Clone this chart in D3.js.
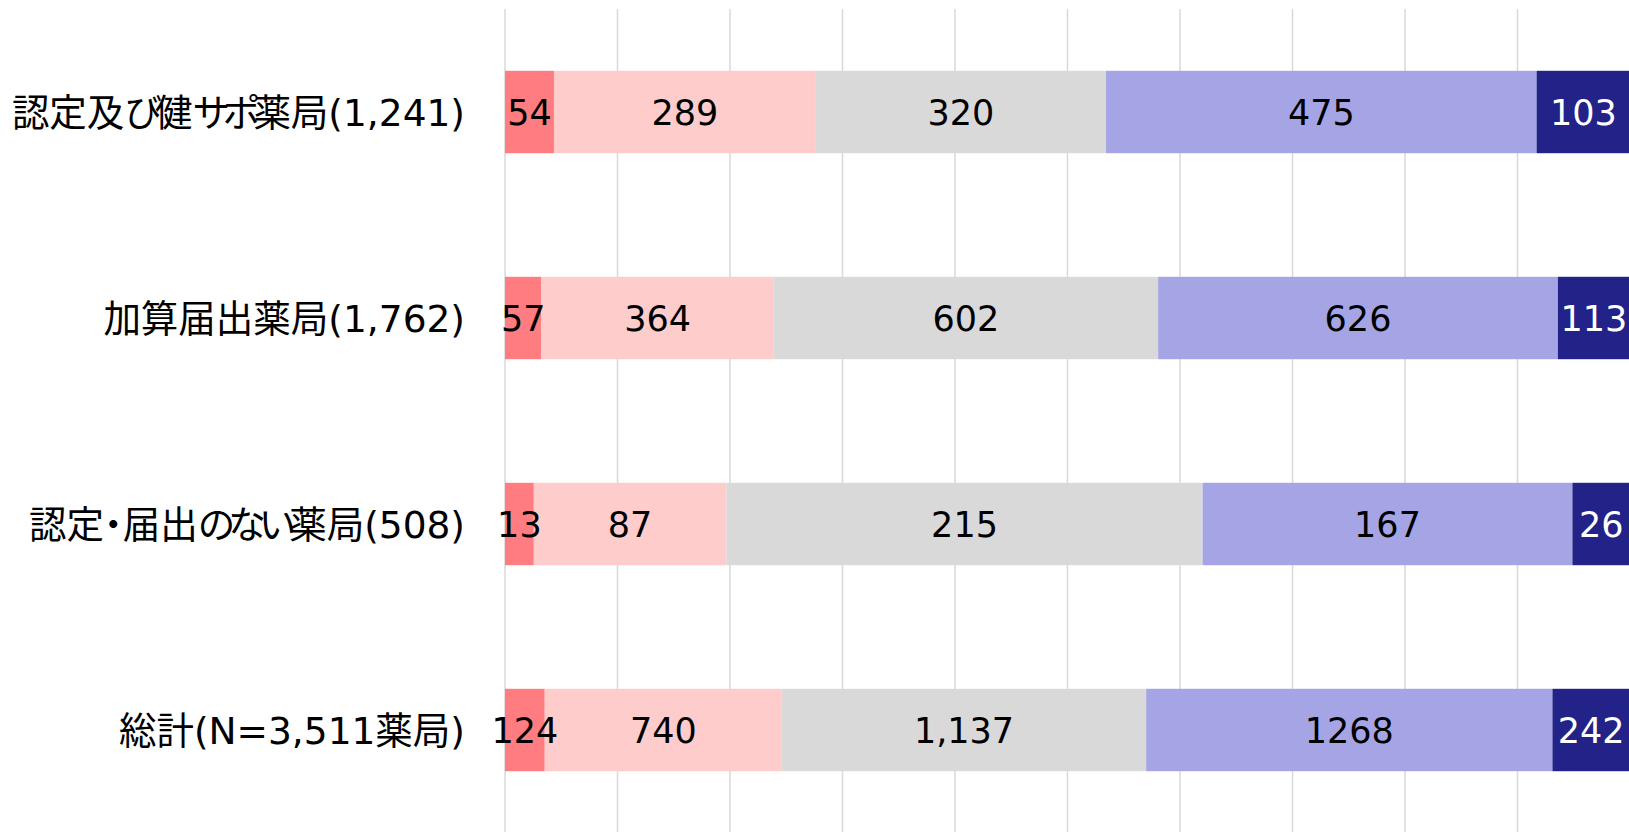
<!DOCTYPE html>
<html>
<head>
<meta charset="utf-8">
<script src="https://cdn.jsdelivr.net/npm/d3@7"></script>
<style>
  html, body { margin: 0; padding: 0; background: #fff; overflow: hidden; }
  svg { display: block; }
  text { font-family: "DejaVu Sans", "Noto Sans CJK JP", sans-serif; }
  .cat tspan.kana { letter-spacing: -7px; }
  .cat tspan.dot { font-feature-settings: "palt"; }
</style>
</head>
<body>
<svg id="chart" width="1629" height="832"></svg>
<script>
// ---- data ----
const categories = ["認定及び健サポ薬局(1,241)", "加算届出薬局(1,762)", "認定・届出のない薬局(508)", "総計(N=3,511薬局)"];
const seriesKeys = ["s1", "s2", "s3", "s4", "s5"];
const s1 = [54, 57, 13, 124];
const s2 = [289, 364, 87, 740];
const s3 = [320, 602, 215, 1137];
const s4 = [475, 626, 167, 1268];
const s5 = [103, 113, 26, 242];
const labels1 = ["54", "57", "13", "124"];
const labels2 = ["289", "364", "87", "740"];
const labels3 = ["320", "602", "215", "1,137"];
const labels4 = ["475", "626", "167", "1268"];
const labels5 = ["103", "113", "26", "242"];
const gridTicks = [0, 0.1, 0.2, 0.3, 0.4, 0.5, 0.6, 0.7, 0.8, 0.9, 1.0];

const colors = ["#FF7C80", "#FFCCCC", "#D9D9D9", "#A5A5E6", "#222289"];
const textColors = ["#000", "#000", "#000", "#000", "#fff"];

const seriesVals = [s1, s2, s3, s4, s5];
const seriesLabels = [labels1, labels2, labels3, labels4, labels5];

const rows = categories.map((c, i) => {
  const o = { cat: c };
  seriesKeys.forEach((k, j) => o[k] = seriesVals[j][i]);
  return o;
});

const stacked = d3.stack().keys(seriesKeys).offset(d3.stackOffsetExpand)(rows);

const svg = d3.select("#chart");
const x = d3.scaleLinear().domain([0, 1]).range([505, 1630]);
const y = d3.scaleBand().domain(categories).range([9, 833]).paddingInner(0.6).paddingOuter(0.3);

// gridlines
svg.append("g").selectAll("line").data(gridTicks).join("line")
  .attr("x1", d => x(d)).attr("x2", d => x(d))
  .attr("y1", 9).attr("y2", 840)
  .attr("stroke", "#d9d9d9").attr("stroke-width", 1.5);

// bars
const layers = svg.append("g").selectAll("g").data(stacked).join("g")
  .attr("fill", (d, i) => colors[i]);
layers.selectAll("rect").data(d => d).join("rect")
  .attr("x", d => x(d[0]))
  .attr("width", d => x(d[1]) - x(d[0]))
  .attr("y", d => y(d.data.cat))
  .attr("height", y.bandwidth());

// value labels
stacked.forEach((layer, si) => {
  svg.append("g").selectAll("text").data(layer).join("text")
    .attr("x", d => (x(d[0]) + x(d[1])) / 2)
    .attr("y", d => y(d.data.cat) + y.bandwidth() / 2)
    .attr("dy", "0.36em")
    .attr("text-anchor", "middle")
    .attr("font-size", 35)
    .attr("fill", textColors[si])
    .text((d, i) => seriesLabels[si][i]);
});

// category axis labels
const yAxis = d3.axisLeft(y).tickSize(0).tickPadding(40);
const ga = svg.append("g").attr("class", "cat").attr("transform", `translate(${x(0)},0)`).call(yAxis);
ga.select(".domain").remove();
ga.selectAll("text").attr("font-size", 37.5).attr("fill", "#000")
  .attr("dy", "0.36em")
  .attr("font-family", "\"DejaVu Sans\", \"Noto Sans CJK JP\", sans-serif")
  .each(function(d) {
    const t = d3.select(this);
    t.text(null);
    const runs = d.match(/・|[\u3040-\u30FA\u30FC-\u30FF]+|[^\u3040-\u30FF]+/g);
    runs.forEach(r => {
      const cls = r === "・" ? "dot" : (/[\u3040-\u30FF]/.test(r) ? "kana" : "other");
      t.append("tspan").attr("class", cls).text(r);
    });
  });
</script>
</body>
</html>
